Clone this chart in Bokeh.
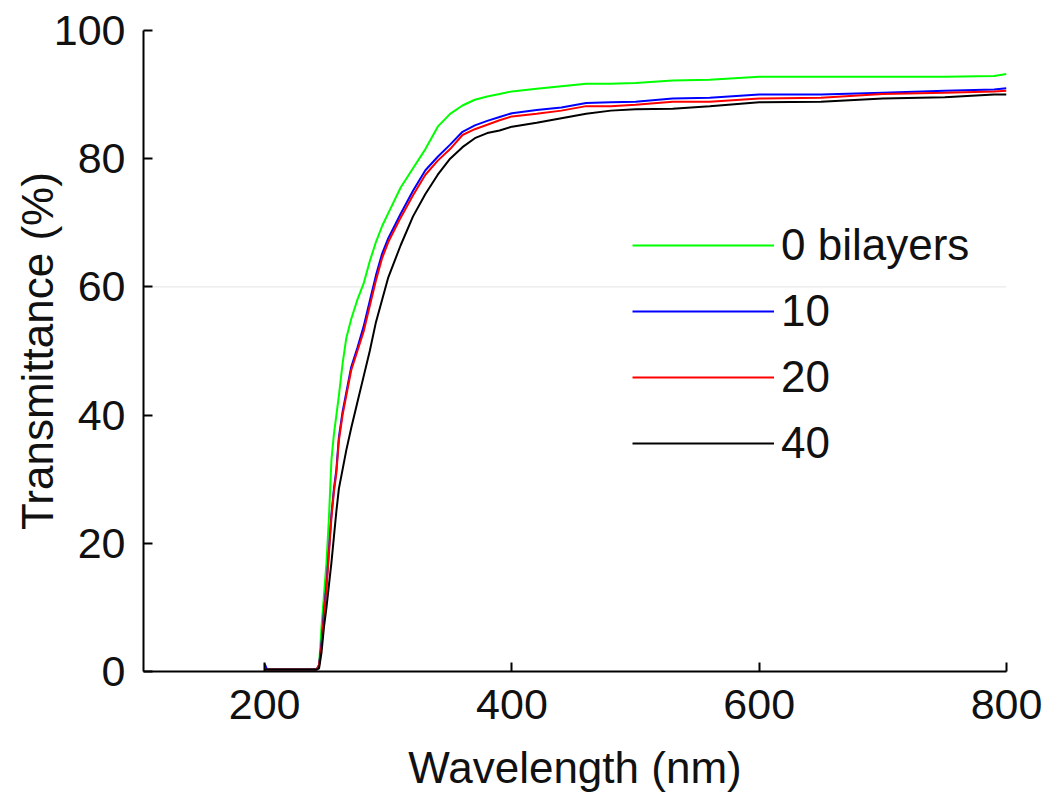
from bokeh.plotting import figure
from bokeh.models import Range1d, Legend, LegendItem, FixedTicker, Span
from bokeh.embed import file_html
from bokeh.resources import INLINE

wavelength = [200, 202, 210, 220, 230, 240, 242, 244, 246, 248, 250, 252, 254, 256, 258, 260,
              263, 266, 270, 275, 280, 285, 290, 295, 300, 310, 320, 330, 340, 350, 360, 370,
              380, 390, 400, 420, 440, 460, 480, 500, 530, 560, 600, 650, 700, 750, 790, 800]

t_0 = [0.3, 0.3, 0.3, 0.3, 0.3, 0.3, 0.3, 0.8, 7, 12, 17, 24, 33, 37, 40, 43,
       48, 52, 55, 58, 60.5, 64, 67, 69.5, 71.5, 75.5, 78.5, 81.5, 85, 87, 88.3, 89.2,
       89.7, 90.1, 90.5, 90.9, 91.3, 91.7, 91.7, 91.8, 92.2, 92.3, 92.8, 92.8, 92.8, 92.8, 92.9, 93.2]

t_10 = [1.2, 0.3, 0.3, 0.3, 0.3, 0.3, 0.3, 1, 4.5, 9.5, 13.5, 19, 24.5, 28.5, 31.5, 36.5,
        40.5, 43.5, 47.5, 50.5, 53.8, 57.8, 61.8, 65.2, 67.6, 71.4, 75, 78.2, 80.3, 82.2, 84.2, 85.2,
        85.9, 86.5, 87.1, 87.6, 88.0, 88.7, 88.8, 88.9, 89.4, 89.5, 90.0, 90.0, 90.3, 90.6, 90.8, 91.0]

t_20 = [0.3, 0.3, 0.3, 0.3, 0.3, 0.3, 0.3, 1, 4, 9, 13, 18.5, 24, 28, 31, 36,
        40, 43, 47, 50, 53, 57, 61, 64.5, 67, 70.8, 74.3, 77.5, 79.7, 81.5, 83.7, 84.6,
        85.3, 86.0, 86.6, 87.0, 87.5, 88.2, 88.2, 88.4, 88.9, 88.9, 89.4, 89.5, 90.1, 90.3, 90.5, 90.6]

t_40 = [0.3, 0.3, 0.3, 0.3, 0.3, 0.3, 0.3, 0.5, 3, 7, 10, 13.5, 17, 21, 25, 28.5,
        31.5, 34.5, 38, 42, 46, 50, 54.5, 58, 61.5, 66.5, 71, 74.5, 77.5, 80, 81.8, 83.2,
        84.0, 84.4, 85.0, 85.6, 86.3, 87.0, 87.5, 87.7, 87.8, 88.2, 88.8, 88.9, 89.4, 89.6, 90.0, 90.0]

labels = ["0 bilayers", "10", "20", "40"]
colors = ["#00ff00", "#0000ff", "#ff0000", "#000000"]
series = [t_0, t_10, t_20, t_40]

x_ticks = [200, 400, 600, 800]
y_ticks = [0, 20, 40, 60, 80, 100]

FONT = "Liberation Sans"

p = figure(width=1045, height=795, x_range=Range1d(102, 800), y_range=Range1d(0, 100),
           output_backend="svg", toolbar_location=None,
           min_border_left=143, min_border_right=39, min_border_top=30, min_border_bottom=124)
p.outline_line_color = None
p.grid.visible = False
p.background_fill_color = "white"
p.border_fill_color = "white"

p.add_layout(Span(location=60, dimension="width", line_color="#e4e4e4", line_width=1, level="underlay"))

items = []
for lab, col, ys in zip(labels, colors, series):
    r = p.line(wavelength, ys, line_color=col, line_width=2)
    items.append(LegendItem(label=lab, renderers=[r]))

for ax in (p.xaxis[0], p.yaxis[0]):
    ax.axis_line_width = 2
    ax.axis_line_color = "black"
    ax.major_tick_in = 9
    ax.major_tick_out = 0
    ax.major_tick_line_width = 2
    ax.major_tick_line_color = "black"
    ax.minor_tick_line_color = None
    ax.major_label_text_font = FONT
    ax.major_label_text_font_size = "43px"
    ax.major_label_text_color = "#111111"
    ax.axis_label_text_font = FONT
    ax.axis_label_text_font_size = "44px"
    ax.axis_label_text_font_style = "normal"
    ax.axis_label_text_color = "#111111"

p.xaxis[0].ticker = FixedTicker(ticks=x_ticks)
p.yaxis[0].ticker = FixedTicker(ticks=y_ticks)
p.xaxis[0].axis_label = "Wavelength (nm)"
p.yaxis[0].axis_label = "Transmittance (%)"
p.xaxis[0].major_label_standoff = 18
p.yaxis[0].major_label_standoff = 18
p.xaxis[0].axis_label_standoff = 21
p.yaxis[0].axis_label_standoff = -11

legend = Legend(items=items, location=(489, 203), orientation="vertical",
                glyph_width=142, glyph_height=50, label_height=50, spacing=16,
                label_standoff=7, padding=0, margin=0,
                border_line_color=None, background_fill_alpha=0,
                label_text_font=FONT, label_text_font_size="44px", label_text_color="#111111")
p.add_layout(legend)

open("out.html", "w").write(file_html(p, INLINE))
